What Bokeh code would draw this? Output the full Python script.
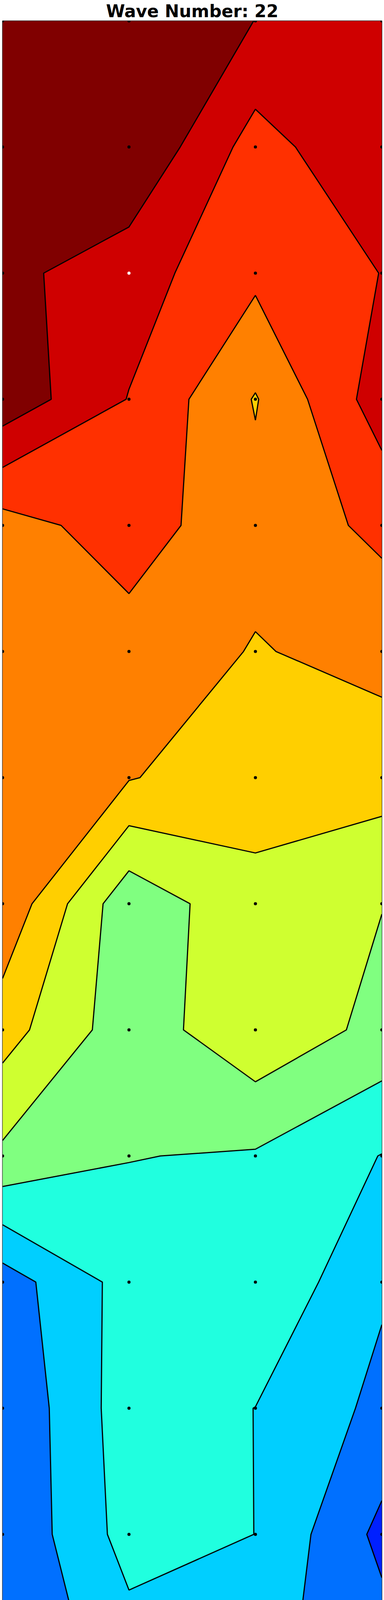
import numpy as np
from bokeh.embed import file_html
from bokeh.plotting import figure
from bokeh.resources import INLINE

title = 'Wave Number: 22'

# grid node values, one list per column, listed from the top row down
col_0 = [11.60, 11.70, 11.27, 11.65, 8.60, 8.68, 8.76, 8.83, 7.43, 5.80, 2.50, 2.10, 2.10, 2.09, 1.60, 0.34]
col_1 = [11.70, 11.97, 10.44, 9.962, 9.464, 8.606, 8.064, 5.271, 5.417, 5.033, 4.40, 4.535, 4.391, 3.506, 3.134, 1.858]
col_2 = [10.99, 9.576, 9.228, 7.933, 8.337, 7.937, 7.328, 6.779, 6.77, 4.90, 4.867, 3.99, 3.995, 3.225, 3.229, 2.259]
col_3 = [10.90, 10.914, 10.02, 10.52, 9.239, 8.324, 7.431, 6.027, 5.70, 3.97, 3.133, 2.739, 1.730, 2.515, 2.734, 2.60]

levels = list(range(13))
band_colors = ['#0000aa', '#0020ff', '#0070ff', '#00cfff', '#20ffdf', '#80ff80',
               '#cfff30', '#ffcf00', '#ff8000', '#ff3000', '#cf0000', '#800000']

# node drawn in white (column, row from top)
white_node = (1, 2)


def build_grid(columns):
    z = np.array(columns).T          # rows top -> bottom, columns left -> right
    return z[::-1]                   # bottom row first for the y axis


def plot_wave(columns, levels, colors, title):
    n_rows = len(columns[0])
    n_cols = len(columns)
    xs = np.arange(n_cols)
    ys = np.arange(n_rows)
    z = build_grid(columns)

    p = figure(width=984, height=4902, title=title,
               x_range=(0, n_cols - 1), y_range=(0, n_rows - 1),
               output_backend="svg", toolbar_location=None,
               x_axis_location=None, y_axis_location=None,
               min_border_left=6, min_border_right=6,
               min_border_top=0, min_border_bottom=6)
    p.xgrid.grid_line_color = None
    p.ygrid.grid_line_color = None
    p.outline_line_color = '#262626'
    p.outline_line_width = 2
    p.title.align = 'center'
    p.title.text_font = 'DejaVu Sans'
    p.title.text_font_style = 'bold'
    p.title.text_font_size = '44px'
    p.title.text_color = 'black'
    p.title.standoff = 0

    p.contour(xs, ys, z, levels=levels, fill_color=colors,
              line_color='black', line_width=3)

    gx, gy = np.meshgrid(xs, ys)
    dot_x = gx.ravel()
    dot_y = gy.ravel()
    dot_color = ['black'] * len(dot_x)
    for i, (x, y) in enumerate(zip(dot_x, dot_y)):
        if (x, n_rows - 1 - y) == white_node:
            dot_color[i] = 'white'
    p.scatter(dot_x, dot_y, size=8, color=dot_color, line_width=0)
    return p


p = plot_wave([col_0, col_1, col_2, col_3], levels, band_colors, title)
open("out.html", "w").write(file_html(p, INLINE))
